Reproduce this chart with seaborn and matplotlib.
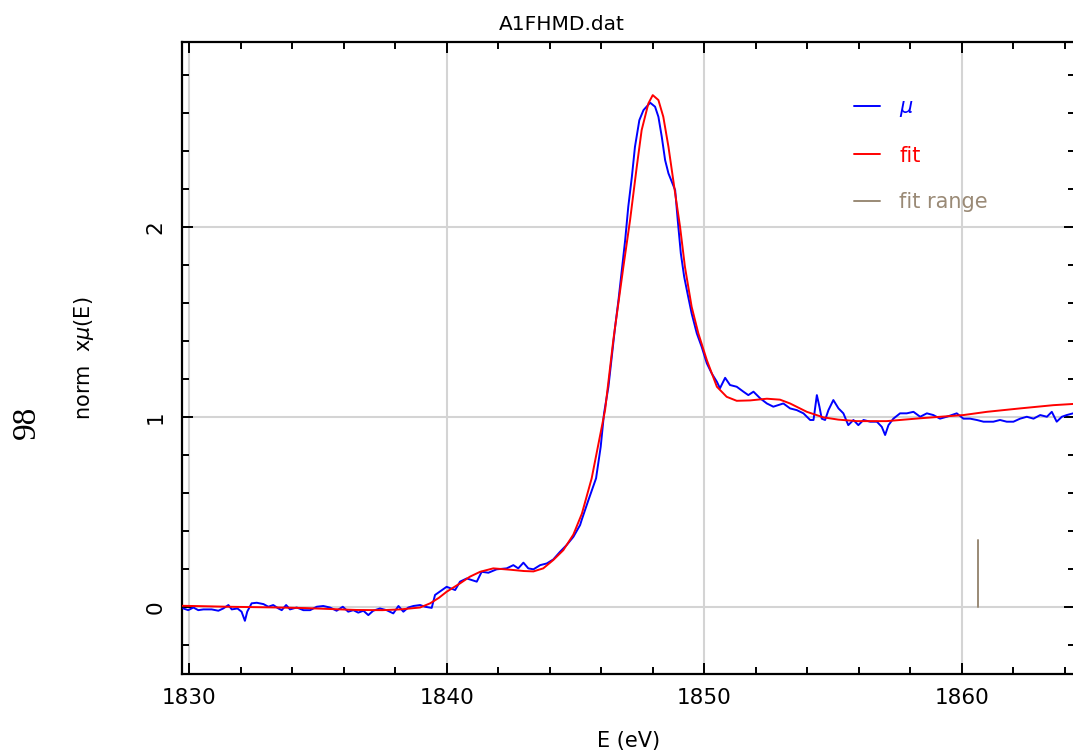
import matplotlib
matplotlib.use("Agg")
import matplotlib.pyplot as plt
import seaborn as sns
import pandas as pd
from matplotlib.lines import Line2D
from matplotlib.ticker import MultipleLocator

# ---------------- data ----------------
energy_mu = [1829.78, 1829.97, 1830.17, 1830.36, 1830.56, 1830.88, 1831.14, 1831.33, 1831.53, 1831.66,
             1831.88, 1832.04, 1832.17, 1832.26, 1832.43, 1832.63, 1832.89, 1833.08, 1833.27, 1833.47,
             1833.60, 1833.77, 1833.92, 1834.18, 1834.44, 1834.70, 1834.96, 1835.21, 1835.47, 1835.73,
             1835.97, 1836.18, 1836.38, 1836.57, 1836.77, 1836.96, 1837.15, 1837.41, 1837.67, 1837.93,
             1838.13, 1838.32, 1838.51, 1838.71, 1838.97, 1839.16, 1839.42, 1839.55, 1840.00, 1840.33,
             1840.52, 1840.78, 1841.17, 1841.36, 1841.62, 1841.94, 1842.33, 1842.59, 1842.78, 1842.98,
             1843.17, 1843.37, 1843.63, 1843.89, 1844.14, 1844.40, 1844.66, 1844.92, 1845.18, 1845.24,
             1845.50, 1845.80, 1845.98, 1846.11, 1846.28, 1846.41, 1846.54, 1846.67, 1846.80, 1846.93,
             1847.05, 1847.19, 1847.31, 1847.48, 1847.64, 1847.90, 1848.09, 1848.22, 1848.35, 1848.48,
             1848.61, 1848.74, 1848.87, 1848.97, 1849.09, 1849.22, 1849.35, 1849.51, 1849.71, 1849.90,
             1850.10, 1850.29, 1850.49, 1850.61, 1850.81, 1851.00, 1851.26, 1851.52, 1851.71, 1851.91,
             1852.17, 1852.43, 1852.68, 1852.88, 1853.07, 1853.33, 1853.59, 1853.85, 1854.11, 1854.24,
             1854.37, 1854.47, 1854.56, 1854.69, 1854.82, 1855.01, 1855.21, 1855.40, 1855.59, 1855.79,
             1855.98, 1856.18, 1856.44, 1856.70, 1856.89, 1857.02, 1857.15, 1857.34, 1857.60, 1857.86,
             1858.12, 1858.38, 1858.64, 1858.89, 1859.15, 1859.41, 1859.80, 1860.06, 1860.32, 1860.58,
             1860.84, 1861.22, 1861.48, 1861.74, 1862.00, 1862.26, 1862.52, 1862.78, 1863.04, 1863.30,
             1863.49, 1863.68, 1863.88, 1864.07, 1864.32]
mu_values = [-0.009, -0.018, -0.004, -0.018, -0.014, -0.014, -0.021, -0.009, 0.009, -0.014,
             -0.009, -0.026, -0.074, -0.026, 0.018, 0.021, 0.014, 0.000, 0.009, -0.009,
             -0.018, 0.009, -0.014, -0.004, -0.018, -0.018, 0.000, 0.004, -0.004, -0.021,
             0.000, -0.026, -0.018, -0.031, -0.021, -0.044, -0.021, -0.009, -0.018, -0.035,
             0.004, -0.026, -0.004, 0.004, 0.009, 0.000, -0.006, 0.062, 0.105, 0.088,
             0.132, 0.149, 0.132, 0.184, 0.179, 0.197, 0.202, 0.219, 0.202, 0.232,
             0.202, 0.197, 0.219, 0.228, 0.249, 0.289, 0.325, 0.368, 0.430, 0.456,
             0.560, 0.676, 0.842, 1.018, 1.158, 1.316, 1.474, 1.614, 1.772, 1.930,
             2.105, 2.263, 2.421, 2.561, 2.614, 2.653, 2.632, 2.579, 2.474, 2.351,
             2.281, 2.237, 2.193, 2.035, 1.860, 1.737, 1.649, 1.544, 1.439, 1.368,
             1.281, 1.228, 1.184, 1.150, 1.205, 1.167, 1.158, 1.132, 1.114, 1.132,
             1.097, 1.070, 1.053, 1.062, 1.070, 1.044, 1.035, 1.018, 0.983, 0.983,
             1.114, 1.053, 0.990, 0.983, 1.035, 1.088, 1.044, 1.018, 0.956, 0.983,
             0.956, 0.983, 0.974, 0.974, 0.947, 0.904, 0.956, 0.990, 1.018, 1.018,
             1.026, 1.000, 1.018, 1.009, 0.990, 1.000, 1.018, 0.990, 0.990, 0.983,
             0.974, 0.974, 0.983, 0.974, 0.974, 0.990, 1.000, 0.990, 1.009, 1.000,
             1.026, 0.974, 1.000, 1.009, 1.018]

energy_fit = [1829.74, 1830.50, 1831.50, 1832.50, 1833.50, 1834.50, 1835.50, 1836.50, 1837.50, 1838.20,
              1838.97, 1839.36, 1839.70, 1840.00, 1840.52, 1840.90, 1841.30, 1841.81, 1842.46, 1843.00,
              1843.37, 1843.75, 1844.14, 1844.53, 1844.92, 1845.25, 1845.63, 1846.15, 1846.47, 1846.86,
              1847.12, 1847.38, 1847.57, 1847.83, 1848.00, 1848.22, 1848.41, 1848.61, 1848.87, 1849.06,
              1849.25, 1849.51, 1849.77, 1850.10, 1850.49, 1850.87, 1851.26, 1851.78, 1852.43, 1852.94,
              1853.33, 1853.98, 1854.62, 1855.20, 1855.92, 1857.08, 1858.38, 1860.06, 1860.97, 1862.26,
              1863.55, 1864.39]
fit_values = [0.005, 0.003, 0.000, -0.002, -0.004, -0.007, -0.012, -0.017, -0.018, -0.014,
              -0.004, 0.018, 0.047, 0.079, 0.123, 0.158, 0.184, 0.202, 0.195, 0.188,
              0.186, 0.202, 0.246, 0.298, 0.380, 0.490, 0.676, 1.035, 1.404, 1.789,
              2.035, 2.316, 2.509, 2.649, 2.693, 2.667, 2.579, 2.421, 2.176, 2.000,
              1.789, 1.579, 1.439, 1.298, 1.158, 1.105, 1.084, 1.086, 1.095, 1.090,
              1.070, 1.026, 0.997, 0.985, 0.977, 0.977, 0.992, 1.009, 1.026, 1.044,
              1.061, 1.068]

fit_range_x = [1860.63, 1860.63]
fit_range_y = [0.0, 0.35]

legend_labels = ["$\\mu$", "fit", "fit range"]
x_major = [1830, 1840, 1850, 1860]
y_major = [0, 1, 2]

# ---------------- styling ----------------
sns.set_style("white")
plt.rcParams['font.family'] = ['DejaVu Sans']
plt.rcParams['text.color'] = 'black'
plt.rcParams['axes.labelcolor'] = 'black'
plt.rcParams['xtick.color'] = 'black'
plt.rcParams['ytick.color'] = 'black'

c_mu = "#0000ff"
c_fit = "#ff0000"
c_range = "#9a8a76"

fig = plt.figure(figsize=(10.73, 7.56), dpi=100)
ax = fig.add_axes([182.3 / 1073, 1 - 674 / 756, 892.7 / 1073, 631.7 / 756])

df_mu = pd.DataFrame({"E": energy_mu, "mu": mu_values})
df_fit = pd.DataFrame({"E": energy_fit, "fit": fit_values})

sns.lineplot(data=df_mu, x="E", y="mu", ax=ax, color=c_mu, lw=1.4, sort=False, zorder=3)
sns.lineplot(data=df_fit, x="E", y="fit", ax=ax, color=c_fit, lw=1.4, sort=False, zorder=4)
sns.lineplot(x=fit_range_x, y=fit_range_y, ax=ax, color=c_range, lw=1.4, sort=False,
             estimator=None, zorder=2)

ax.set_xlim(1829.74, 1864.39)
ax.set_ylim(-0.354, 2.971)

ax.set_xticks(x_major)
ax.set_yticks(y_major)
ax.xaxis.set_minor_locator(MultipleLocator(2))
ax.yaxis.set_minor_locator(MultipleLocator(0.2))
ax.set_xticklabels([str(v) for v in x_major])
ax.set_yticklabels([str(v) for v in y_major], rotation=90, va="center")

ax.grid(True, which="major", color="#d4d4d4", lw=1.5, zorder=0)
ax.set_axisbelow(True)

for s in ax.spines.values():
    s.set_color("black")
    s.set_linewidth(1.6)

ax.tick_params(which="both", direction="in", top=True, right=True, bottom=True, left=True,
               color="black", width=1.4, labelcolor="black")
ax.tick_params(which="major", length=8, labelsize=15.5, pad=10)
ax.tick_params(which="minor", length=5)
ax.tick_params(axis="y", which="major", pad=12)

ax.set_xlabel("E (eV)", fontsize=15, labelpad=17, color="black")
ax.set_ylabel("norm  x$\\mu$(E)", fontsize=15, labelpad=36, color="black")

handles = [Line2D([0], [0], color=c_mu, lw=1.4),
           Line2D([0], [0], color=c_fit, lw=1.4),
           Line2D([0], [0], color=c_range, lw=1.4)]
leg = ax.legend(handles, legend_labels, loc="upper left", bbox_to_anchor=(0.752, 0.913),
                frameon=False, fontsize=15, handlelength=1.25, handletextpad=0.95,
                labelspacing=1.27, borderpad=0, borderaxespad=0,
                labelcolor=[c_mu, c_fit, c_range])

fig.text(562 / 1073, 1 - 24 / 756, "A1FHMD.dat", ha="center", va="center", fontsize=14.5,
         color="black")
fig.text(27 / 1073, 1 - 422 / 756, "98", ha="center", va="center", rotation=90,
         fontsize=24, family=["Liberation Serif"], color="black")

fig.savefig("out.png", dpi=100)
